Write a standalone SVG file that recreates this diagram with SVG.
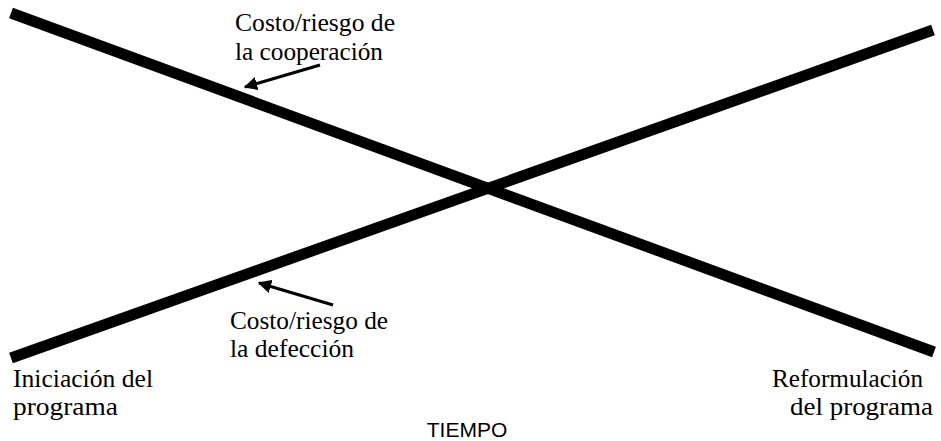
<svg xmlns="http://www.w3.org/2000/svg" width="941" height="441" viewBox="0 0 941 441">
<style>
.t{font-family:"Liberation Serif","Times New Roman",serif;font-size:25px;fill:#000}
.s{font-family:"Liberation Sans",Arial,sans-serif;font-size:21px;fill:#000}
.big{stroke:#000;stroke-width:11;fill:none;stroke-linecap:butt}
.arr{stroke:#000;stroke-width:3;fill:none}
</style>
<defs>
<marker id="ah" viewBox="0 0 10 10" refX="9" refY="5" markerWidth="4.5" markerHeight="4.5" orient="auto" markerUnits="strokeWidth">
<path d="M0,0 L10,5 L0,10 z" fill="#000"/>
</marker>
</defs>
<rect width="941" height="441" fill="#fff"/>
<g id="connectors">
<line class="big" x1="11" y1="13" x2="934" y2="352"/>
<line class="big" x1="11" y1="358" x2="933" y2="30"/>
<line class="arr" x1="320" y1="65" x2="245" y2="87" marker-end="url(#ah)"/>
<line class="arr" x1="333" y1="305" x2="259" y2="283" marker-end="url(#ah)"/>
</g>
<g id="label-cooperacion">
<text class="t" x="235" y="31" textLength="160" lengthAdjust="spacingAndGlyphs">Costo/riesgo de</text>
<text class="t" x="235" y="60" textLength="148" lengthAdjust="spacingAndGlyphs">la cooperación</text>
</g>
<g id="label-defeccion">
<text class="t" x="230" y="329" textLength="158" lengthAdjust="spacingAndGlyphs">Costo/riesgo de</text>
<text class="t" x="230" y="357" textLength="124" lengthAdjust="spacingAndGlyphs">la defección</text>
</g>
<g id="label-iniciacion">
<text class="t" x="13" y="387" textLength="140" lengthAdjust="spacingAndGlyphs">Iniciación del</text>
<text class="t" x="13" y="415" textLength="105" lengthAdjust="spacingAndGlyphs">programa</text>
</g>
<g id="label-reformulacion">
<text class="t" x="772" y="387" textLength="151" lengthAdjust="spacingAndGlyphs">Reformulación</text>
<text class="t" x="790" y="415" textLength="143" lengthAdjust="spacingAndGlyphs">del programa</text>
</g>
<g id="label-tiempo">
<text class="s" x="467" y="437" text-anchor="middle">TIEMPO</text>
</g>
</svg>
